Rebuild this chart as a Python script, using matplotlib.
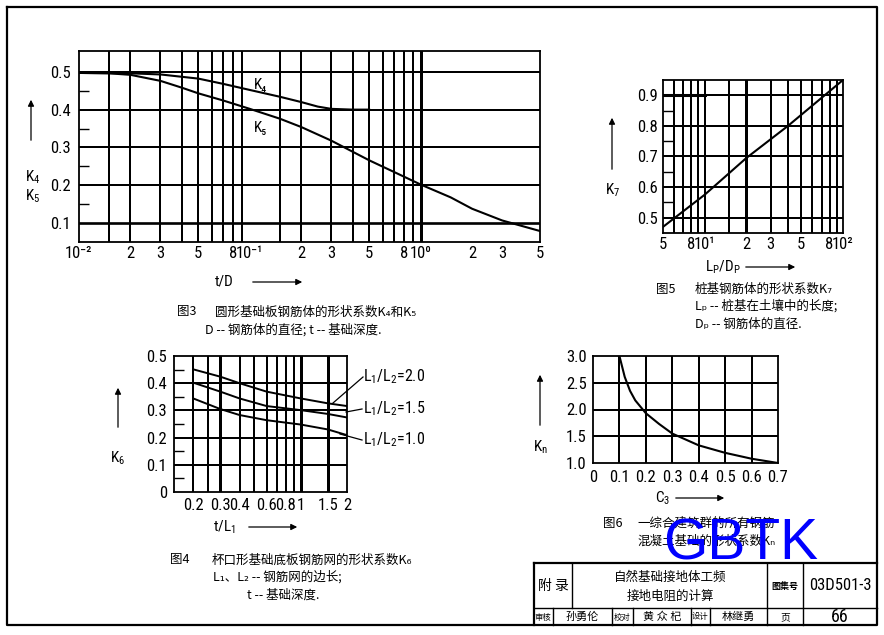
import matplotlib
matplotlib.use('Agg')
import matplotlib.pyplot as plt
from matplotlib import font_manager
from matplotlib.ticker import NullLocator, NullFormatter

W, H = 884, 635

# ---- fig 3 : K4 / K5 against t/D ----
td_k5 = [0.01, 0.015, 0.02, 0.03, 0.04, 0.05, 0.07, 0.1, 0.15, 0.2, 0.3, 0.5, 0.7, 1.0, 1.5, 2.0, 3.0, 5.0]
k5 = [0.497, 0.496, 0.492, 0.476, 0.458, 0.443, 0.424, 0.402, 0.376, 0.354, 0.318, 0.266, 0.235, 0.202, 0.168, 0.138, 0.107, 0.079]
td_k4 = [0.01, 0.02, 0.03, 0.05, 0.07, 0.1, 0.15, 0.2, 0.25, 0.3, 0.4, 0.5]
k4 = [0.497, 0.496, 0.493, 0.482, 0.468, 0.452, 0.434, 0.42, 0.408, 0.402, 0.40, 0.40]
f3_xticks = [0.01, 0.02, 0.03, 0.05, 0.08, 0.1, 0.2, 0.3, 0.5, 0.8, 1, 2, 3, 5]
f3_xlabels = ['10⁻²', '2', '3', '5', '8', '10⁻¹', '2', '3', '5', '8', '10⁰', '2', '3', '5']
f3_vgrid = [0.015, 0.02, 0.03, 0.04, 0.05, 0.06, 0.07, 0.08, 0.09,
            0.15, 0.2, 0.3, 0.4, 0.5, 0.6, 0.7, 0.8, 0.9]
f3_vbold = [1.0]
f3_yticks = [0.1, 0.2, 0.3, 0.4, 0.5]
f3_yminor = [0.15, 0.25, 0.35, 0.45]

# ---- fig 5 : K7 against Lp/Dp ----
lp_dp = [5, 10, 20, 40, 100]
k7 = [0.47, 0.575, 0.695, 0.80, 0.95]
f5_xticks = [5, 8, 10, 20, 30, 50, 80, 100]
f5_xlabels = ['5', '8', '10¹', '2', '3', '5', '8', '10²']
f5_vgrid = [6, 7, 8, 9, 10, 15, 30, 40, 50, 60, 70, 80, 90]
f5_vbold = [20]
f5_yticks = [0.5, 0.6, 0.7, 0.8, 0.9]
f5_yminor = [0.55, 0.65, 0.75, 0.85]

# ---- fig 4 : K6 against t/L1 ----
t_l1 = [0.2, 0.3, 0.4, 0.6, 1.0, 1.5, 2.0]
k6_20 = [0.451, 0.424, 0.400, 0.369, 0.344, 0.326, 0.316]
k6_15 = [0.402, 0.369, 0.344, 0.316, 0.301, 0.287, 0.274]
k6_10 = [0.344, 0.305, 0.283, 0.264, 0.248, 0.230, 0.209]
f4_xticks = [0.2, 0.3, 0.4, 0.6, 0.8, 1, 1.5, 2]
f4_xlabels = ['0.2', '0.3', '0.4', '0.6', '0.8', '1', '1.5', '2']
f4_vgrid = [0.2, 0.25, 0.4, 0.5, 0.6, 0.7, 0.8, 0.9]
f4_vbold = [0.3, 1.0, 1.5]
f4_yticks = [0, 0.1, 0.2, 0.3, 0.4, 0.5]
f4_yminor = [0.05, 0.15, 0.25, 0.35, 0.45]

# ---- fig 6 : Kn against C3 ----
c3 = [0.1, 0.12, 0.14, 0.16, 0.2, 0.25, 0.3, 0.4, 0.5, 0.6, 0.7]
kn = [3.0, 2.61, 2.35, 2.17, 1.93, 1.73, 1.55, 1.33, 1.19, 1.08, 1.0]
f6_xticks = [0, 0.1, 0.2, 0.3, 0.4, 0.5, 0.6, 0.7]
f6_yticks = [1.0, 1.5, 2.0, 2.5, 3.0]

# the sheet uses a tall narrow lettering: look for a condensed face
ttf = font_manager.fontManager.ttflist
names = {fe.name for fe in ttf}
NUM, STRETCH, NUMFS = 'Liberation Sans', 'normal', 9.5
for cand in ['Liberation Sans Narrow', 'Roboto Condensed', 'Open Sans Condensed', 'Noto Sans Condensed']:
    if cand in names:
        NUM, NUMFS = cand, 12
        break
else:
    for fe in ttf:
        if 'ondensed' in fe.fname and fe.name in ('DejaVu Sans', 'Noto Sans', 'Roboto', 'Open Sans'):
            NUM, STRETCH, NUMFS = fe.name, 'condensed', 11
            break

CJK = ['Noto Sans CJK SC', 'DejaVu Sans']
plt.rcParams['font.family'] = [NUM, 'Noto Sans CJK SC', 'DejaVu Sans']
plt.rcParams['font.stretch'] = STRETCH
plt.rcParams['mathtext.fontset'] = 'custom'
mpat = NUM + (':condensed' if STRETCH == 'condensed' else '')
plt.rcParams['mathtext.rm'] = mpat
plt.rcParams['mathtext.it'] = mpat
plt.rcParams['mathtext.default'] = 'rm'

GRID = 1.2
BOLD = 1.9


def px_axes(fig, l, t, r, b):
    return fig.add_axes([l / W, 1 - b / H, (r - l) / W, (b - t) / H])


def grid(ax, thin, bold, rows):
    # one Line2D per rule, drawn above the axes background
    for v in thin:
        ax.axvline(v, color='#000000', lw=GRID, antialiased=False, zorder=2)
    for v in bold:
        ax.axvline(v, color='#000000', lw=BOLD, antialiased=False, zorder=2)
    for h in rows:
        ax.axhline(h, color='#000000', lw=GRID, antialiased=False, zorder=2)


def style(ax, xticks, xlabels, yticks, ylabels, ypad, xpad, fs=NUMFS):
    ax.set_xticks(xticks, xlabels)
    ax.set_yticks(yticks, ylabels)
    ax.xaxis.set_minor_locator(NullLocator())
    ax.xaxis.set_minor_formatter(NullFormatter())
    ax.tick_params(axis='both', which='major', length=0, labelsize=fs)
    ax.tick_params(axis='y', pad=ypad)
    ax.tick_params(axis='x', pad=xpad)
    for sp in ax.spines.values():
        sp.set_linewidth(1.3)


def minor_y(ax, vals):
    ax.set_yticks(vals, minor=True)
    ax.tick_params(axis='y', which='minor', direction='in', length=7, width=1.0)


fig = plt.figure(figsize=(W / 100, H / 100), dpi=100, facecolor='white')

# fig 3
ax3 = px_axes(fig, 79, 51, 540, 242)
ax3.set_xscale('log')
ax3.set_xlim(0.01, 5); ax3.set_ylim(0.05, 0.555)
style(ax3, f3_xticks, f3_xlabels, f3_yticks, ['0.1', '0.2', '0.3', '0.4', '0.5'], 6, 3)
minor_y(ax3, f3_yminor)
grid(ax3, f3_vgrid, f3_vbold, f3_yticks[1:])
ax3.axhline(0.1, color='k', lw=BOLD, zorder=2)
ax3.plot(td_k5, k5, color='k', lw=1.5, zorder=3)
ax3.plot(td_k4, k4, color='k', lw=1.5, zorder=3)
ax3.text(0.105, 0.465, 'K₄', fontsize=11, va='center')
ax3.text(0.105, 0.352, 'K₅', fontsize=11, va='center')

# fig 5
ax5 = px_axes(fig, 663, 80, 843, 233)
ax5.set_xscale('log')
ax5.set_xlim(5, 100); ax5.set_ylim(0.45, 0.95)
style(ax5, f5_xticks, f5_xlabels, f5_yticks, ['0.5', '0.6', '0.7', '0.8', '0.9'], 4, 3)
minor_y(ax5, f5_yminor)
grid(ax5, f5_vgrid, f5_vbold, f5_yticks)
ax5.plot([5, 10], [0.9, 0.9], color='k', lw=2.2, zorder=2)
ax5.plot(lp_dp, k7, color='k', lw=1.5, zorder=3)

# fig 4
ax4 = px_axes(fig, 174, 356, 347, 492)
ax4.set_xscale('log')
ax4.set_xlim(0.15, 2.0); ax4.set_ylim(0, 0.5)
style(ax4, f4_xticks, f4_xlabels, f4_yticks, ['0', '0.1', '0.2', '0.3', '0.4', '0.5'], 5, 4)
minor_y(ax4, f4_yminor)
grid(ax4, f4_vgrid, f4_vbold, f4_yticks[1:-1])
for ys in (k6_20, k6_15, k6_10):
    ax4.plot(t_l1, ys, color='k', lw=1.4, zorder=3)

# fig 6
ax6 = px_axes(fig, 593, 356, 778, 463)
ax6.set_xlim(0, 0.7); ax6.set_ylim(1.0, 3.0)
style(ax6, f6_xticks, ['0', '0.1', '0.2', '0.3', '0.4', '0.5', '0.6', '0.7'],
      f6_yticks, ['1.0', '1.5', '2.0', '2.5', '3.0'], 4.5, 5)
grid(ax6, f6_xticks[1:-1], [], f6_yticks[1:-1])
ax6.plot(c3, kn, color='k', lw=1.5, zorder=3)

# sheet overlay in pixel coordinates
ov = fig.add_axes([0, 0, 1, 1])
ov.set_xlim(0, W); ov.set_ylim(H, 0); ov.axis('off')

# page frame
ov.plot([7, 877, 877, 7, 7], [7, 7, 625, 625, 7], color='k', lw=1.6)


def up_arrow(x, y0, y1):
    ov.annotate('', xy=(x, y1), xytext=(x, y0),
                arrowprops=dict(arrowstyle='-|>', lw=0.9, color='k', mutation_scale=9))


def right_arrow(x0, x1, y):
    ov.annotate('', xy=(x1, y), xytext=(x0, y),
                arrowprops=dict(arrowstyle='-|>', lw=0.9, color='k', mutation_scale=9))


def cjk(x, y, s, fs=9, ha='left', **kw):
    ov.text(x, y, s, fontsize=fs, ha=ha, va='center', family=CJK, **kw)


# fig 3 labels
up_arrow(31, 143, 97)
ov.text(33, 177, '$K_4$', fontsize=11, ha='center', va='center')
ov.text(33, 196, '$K_5$', fontsize=11, ha='center', va='center')
ov.text(215, 282, 't/D', fontsize=11, va='center')
right_arrow(250, 305, 282)
cjk(177, 312, '图3')
cjk(215, 312, '圆形基础板钢筋体的形状系数K₄和K₅')
cjk(205, 330, 'D -- 钢筋体的直径; t -- 基础深度.')

# fig 5 labels
up_arrow(612, 172, 115)
ov.text(613, 190, '$K_7$', fontsize=11, ha='center', va='center')
ov.text(705, 267, '$L_P/D_P$', fontsize=11, va='center')
right_arrow(743, 798, 267)
cjk(656, 289, '图5')
cjk(695, 289, '桩基钢筋体的形状系数K₇')
cjk(695, 306, 'Lₚ -- 桩基在土壤中的长度;')
cjk(695, 324, 'Dₚ -- 钢筋体的直径.')

# fig 4 labels
up_arrow(118, 430, 385)
ov.text(118, 458, '$K_6$', fontsize=11, ha='center', va='center')
ov.text(213, 527, '$t/L_1$', fontsize=11, va='center')
right_arrow(246, 300, 527)
for (x0, y0, x1, y1), lab, ly in zip([(333, 403, 363, 377), (346, 412, 362, 409), (340, 434, 362, 440)],
                                    ['$L_1/L_2$=2.0', '$L_1/L_2$=1.5', '$L_1/L_2$=1.0'],
                                    [377, 409, 440]):
    ov.plot([x0, x1], [y0, y1], color='k', lw=0.9)
    ov.text(363, ly, lab, fontsize=11.5, va='center')
cjk(170, 560, '图4')
cjk(212, 560, '杯口形基础底板钢筋网的形状系数K₆')
cjk(213, 577, 'L₁、L₂ -- 钢筋网的边长;')
cjk(247, 595, 't -- 基础深度.')

# fig 6 labels
up_arrow(540, 428, 372)
ov.text(540, 447, '$K_n$', fontsize=11, ha='center', va='center')
ov.text(655, 498, '$C_3$', fontsize=11, va='center')
right_arrow(673, 727, 498)
cjk(603, 523, '图6')
cjk(637, 523, '一综合建筑群的所有钢筋')
cjk(637, 541, '混凝土基础的形状系数Kₙ')
ov.text(741, 560, 'GBTK', fontsize=41, color='#0000ff', ha='center', va='baseline',
        family='Liberation Sans', stretch='normal', zorder=10)

# title block
ov.plot([534, 877], [563, 563], color='k', lw=1.6)
ov.plot([534, 534], [563, 625], color='k', lw=1.6)
ov.plot([534, 877], [608, 608], color='k', lw=1.0)
ov.plot([572, 572], [563, 608], color='k', lw=1.0)
for x in (767, 803):
    ov.plot([x, x], [563, 625], color='k', lw=1.0)
for x in (553, 612, 633, 691, 710):
    ov.plot([x, x], [608, 625], color='k', lw=1.0)
cjk(553, 586, '附 录', fs=10, ha='center')
cjk(670, 577, '自然基础接地体工频', fs=9, ha='center')
cjk(670, 596, '接地电阻的计算', fs=9, ha='center')
cjk(785, 586, '图集号', fs=6.5, ha='center', fontweight='bold')
ov.text(840, 586, '03D501-3', fontsize=NUMFS, ha='center', va='center')
cjk(543, 617, '审核', fs=6, ha='center')
cjk(582, 617, '孙勇伦', fs=8, ha='center')
cjk(622, 617, '校对', fs=6, ha='center')
cjk(662, 617, '黄 众 杞', fs=8, ha='center')
cjk(700, 617, '设计', fs=6, ha='center')
cjk(738, 617, '林继勇', fs=8, ha='center')
cjk(785, 617, '页', fs=7, ha='center')
ov.text(840, 617, '66', fontsize=NUMFS + 1, ha='center', va='center')

fig.savefig('out.png', dpi=100, facecolor='white')
plt.close(fig)
